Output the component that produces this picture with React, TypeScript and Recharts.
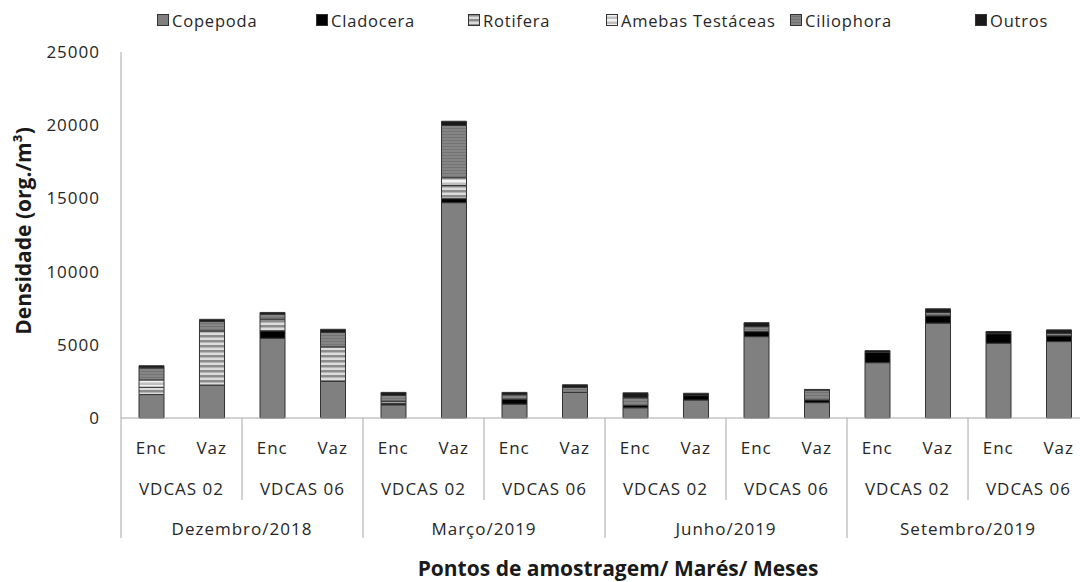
import { BarChart, Bar, XAxis, YAxis } from "recharts";

// categorias (eixo X em três níveis)
const mares = ["Enc", "Vaz", "Enc", "Vaz", "Enc", "Vaz", "Enc", "Vaz", "Enc", "Vaz", "Enc", "Vaz", "Enc", "Vaz", "Enc", "Vaz"];
const estacoes = ["VDCAS 02", "VDCAS 06", "VDCAS 02", "VDCAS 06", "VDCAS 02", "VDCAS 06", "VDCAS 02", "VDCAS 06"];
const meses = ["Dezembro/2018", "Março/2019", "Junho/2019", "Setembro/2019"];

// densidade (org./m³) por grupo
const copepoda = [1600, 2250, 5450, 2500, 900, 14710, 950, 1750, 700, 1230, 5560, 1050, 3780, 6480, 5110, 5220];
const cladocera = [0, 0, 500, 0, 100, 270, 340, 0, 160, 300, 340, 180, 700, 500, 650, 390];
const rotifera = [500, 3700, 800, 2360, 150, 900, 0, 0, 0, 0, 0, 0, 0, 0, 0, 0];
const amebas = [500, 0, 0, 0, 0, 530, 0, 0, 0, 0, 0, 0, 0, 0, 0, 0];
const ciliophora = [820, 640, 340, 980, 400, 3570, 300, 340, 520, 0, 340, 680, 0, 230, 0, 180];
const outros = [150, 150, 120, 220, 200, 290, 160, 180, 340, 160, 270, 40, 120, 250, 150, 230];

const yTicks = [0, 5000, 10000, 15000, 20000, 25000];

const data = mares.map((m, i) => ({
  mare: m,
  copepoda: copepoda[i],
  cladocera: cladocera[i],
  rotifera: rotifera[i],
  amebas: amebas[i],
  ciliophora: ciliophora[i],
  outros: outros[i],
}));

const series = [
  { key: "copepoda", name: "Copepoda", fill: "#808080" },
  { key: "cladocera", name: "Cladocera", fill: "#000000" },
  { key: "rotifera", name: "Rotifera", fill: "url(#rotPat)" },
  { key: "amebas", name: "Amebas Testáceas", fill: "url(#amePat)" },
  { key: "ciliophora", name: "Ciliophora", fill: "url(#ciliPat)" },
  { key: "outros", name: "Outros", fill: "#1a1a1a" },
];
// posição horizontal de cada item da legenda (como no original)
const legendLeft = [157, 316, 468, 606, 790, 975];

const CHART_W = 1090;
const CHART_H = 582;
const Y_AXIS_W = 121;
const PLOT_W = CHART_W - Y_AXIS_W - 1;
const HALF_BAND = PLOT_W / mares.length / 2;
const TEXT = "#262626";
const LINE = "#a6a6a6";
const FONT = "'Open Sans', Lato, sans-serif";
const LABEL = { fontSize: 17, letterSpacing: 1 };

function CategoryTick(props: any) {
  const { x, y, payload } = props;
  const i: number = payload.index;
  const half = payload.offset || HALF_BAND;
  const last = i === mares.length - 1;
  return (
    <g>
      <text x={x} y={y + 36} textAnchor="middle" fill={TEXT} style={LABEL}>
        {payload.value}
      </text>
      {i % 2 === 0 && (
        <>
          <line x1={x - half} y1={y} x2={x - half} y2={y + (i % 4 === 0 ? 120 : 82)} stroke={LINE} />
          <text x={x + half} y={y + 77} textAnchor="middle" fill={TEXT} style={LABEL}>
            {estacoes[i / 2]}
          </text>
        </>
      )}
      {i % 4 === 0 && (
        <text x={x + 3 * half} y={y + 117} textAnchor="middle" fill={TEXT} style={LABEL}>
          {meses[i / 4]}
        </text>
      )}
      {last && <line x1={x + half} y1={y} x2={x + half} y2={y + 120} stroke={LINE} />}
    </g>
  );
}

export default function App() {
  return (
    <div style={{ position: "absolute", left: 0, top: 0, width: 1080, height: CHART_H, overflow: "hidden", background: "#fff", fontFamily: FONT }}>
      <svg width={0} height={0} style={{ position: "absolute" }}>
        <defs>
          <pattern id="rotPat" width={6} height={5} patternUnits="userSpaceOnUse">
            <rect width={6} height={5} fill="#8c8c8c" />
            <rect y={2.5} width={6} height={2.5} fill="#dcdcdc" />
          </pattern>
          <pattern id="amePat" width={6} height={5} patternUnits="userSpaceOnUse">
            <rect width={6} height={5} fill="#f2f2f2" />
            <rect y={2.5} width={6} height={2.5} fill="#bfbfbf" />
          </pattern>
          <pattern id="ciliPat" width={6} height={3} patternUnits="userSpaceOnUse">
            <rect width={6} height={3} fill="#858585" />
            <rect y={2} width={6} height={1} fill="#747474" />
          </pattern>
        </defs>
      </svg>
      {series.map((s, i) => (
        <div
          key={s.key}
          style={{
            position: "absolute",
            left: legendLeft[i],
            top: 9,
            display: "flex",
            alignItems: "center",
            color: TEXT,
            whiteSpace: "nowrap",
            fontSize: 16.5,
            letterSpacing: 0.8,
          }}
        >
          <svg width={13} height={13} style={{ marginRight: 2 }}>
            <rect x={0.5} y={0.5} width={11} height={11} fill={s.fill} stroke="#333" />
          </svg>
          <span>{s.name}</span>
        </div>
      ))}
      <BarChart
        width={CHART_W}
        height={CHART_H}
        data={data}
        margin={{ top: 52, right: 1, bottom: 0, left: 0 }}
      >
        <XAxis
          dataKey="mare"
          interval={0}
          height={164}
          tickSize={0}
          tickMargin={0}
          tickLine={false}
          axisLine={{ stroke: LINE }}
          tick={<CategoryTick />}
        />
        <YAxis
          width={Y_AXIS_W}
          domain={[0, 25000]}
          ticks={yTicks}
          tickLine={false}
          tickSize={0}
          tickMargin={21}
          axisLine={{ stroke: LINE }}
          tick={{ fill: TEXT, fontSize: 17, letterSpacing: 1 }}
        />
        {series.map((s) => (
          <Bar
            key={s.key}
            dataKey={s.key}
            name={s.name}
            fill={s.fill}
            stroke="#333333"
            strokeWidth={1}
            stackId="a"
            barSize={25}
            isAnimationActive={false}
          />
        ))}
      </BarChart>
      <div
        style={{
          position: "absolute",
          left: 23,
          top: 231,
          transform: "translate(-50%, -50%) rotate(-90deg)",
          fontSize: 21,
          fontWeight: 700,
          color: "#1a1a1a",
          whiteSpace: "nowrap",
        }}
      >
        Densidade (org./m³)
      </div>
      <div
        style={{
          position: "absolute",
          left: 618,
          top: 556,
          transform: "translateX(-50%)",
          fontSize: 21,
          lineHeight: "24px",
          fontWeight: 700,
          color: "#1a1a1a",
          whiteSpace: "nowrap",
        }}
      >
        Pontos de amostragem/ Marés/ Meses
      </div>
    </div>
  );
}
